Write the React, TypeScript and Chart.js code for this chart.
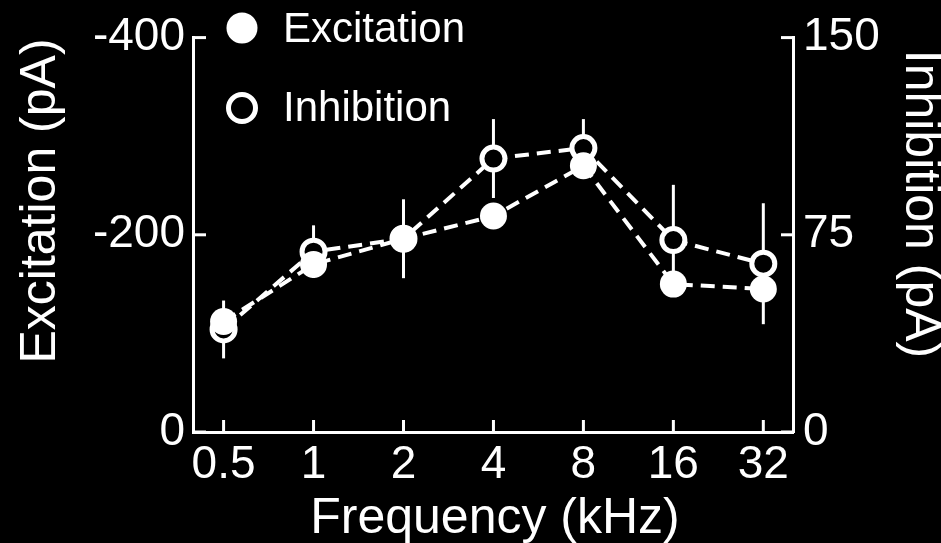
import React, { useEffect, useRef } from 'react';
import { Chart, registerables } from 'chart.js';

Chart.register(...registerables);

const categories = ['0.5', '1', '2', '4', '8', '16', '32'];
const excitation = [-112, -170, -196, -219, -270, -150, -145];
const excitationErr = [12, 8, 20, 10, 10, 10, 12];
const inhibition = [39, 68.6, 73.5, 104, 108, 73, 64];
const inhibitionErr = [11, 10, 15, 15, 11, 21, 23];
const excTicks = [-400, -200, 0];
const inhTicks = [0, 75, 150];
const excTitle = 'Excitation (pA)';
const inhTitle = 'Inhibition (pA)';
const xTitle = 'Frequency (kHz)';
const legendLabels = ['Excitation', 'Inhibition'];

const FONT = '"Liberation Sans", Arial, Helvetica, sans-serif';
const WHITE = '#ffffff';

const customPlugin = {
  id: 'customDecor',
  beforeDraw(chart: any) {
    const ctx = chart.ctx;
    ctx.save();
    ctx.fillStyle = '#000000';
    ctx.fillRect(0, 0, chart.width, chart.height);
    ctx.restore();
  },
  beforeDatasetsDraw(chart: any) {
    const ctx = chart.ctx;
    const xs = chart.scales.x;
    const sets = [
      { vals: excitation, errs: excitationErr, scale: chart.scales.yL },
      { vals: inhibition, errs: inhibitionErr, scale: chart.scales.yR },
    ];
    ctx.save();
    ctx.strokeStyle = WHITE;
    ctx.lineWidth = 3;
    ctx.lineCap = 'butt';
    sets.forEach((s) => {
      s.vals.forEach((v, i) => {
        const x = xs.getPixelForValue(i);
        const y1 = s.scale.getPixelForValue(v - s.errs[i]);
        const y2 = s.scale.getPixelForValue(v + s.errs[i]);
        ctx.beginPath();
        ctx.moveTo(x, y1);
        ctx.lineTo(x, y2);
        ctx.stroke();
      });
    });
    ctx.restore();
  },
  afterDraw(chart: any) {
    const ctx = chart.ctx;
    const area = chart.chartArea;
    const xs = chart.scales.x;
    const yL = chart.scales.yL;
    const yR = chart.scales.yR;
    ctx.save();
    ctx.strokeStyle = WHITE;
    ctx.fillStyle = WHITE;
    ctx.lineWidth = 3;
    // inward tick marks
    excTicks.forEach((v) => {
      const y = yL.getPixelForValue(v);
      ctx.beginPath();
      ctx.moveTo(area.left, y);
      ctx.lineTo(area.left + 13, y);
      ctx.stroke();
    });
    inhTicks.forEach((v) => {
      const y = yR.getPixelForValue(v);
      ctx.beginPath();
      ctx.moveTo(area.right, y);
      ctx.lineTo(area.right - 12, y);
      ctx.stroke();
    });
    categories.forEach((_, i) => {
      const x = xs.getPixelForValue(i);
      ctx.beginPath();
      ctx.moveTo(x, area.bottom);
      ctx.lineTo(x, area.bottom - 12);
      ctx.stroke();
    });

    // axis titles
    ctx.font = `50px ${FONT}`;
    ctx.textAlign = 'center';
    ctx.textBaseline = 'alphabetic';
    ctx.save();
    ctx.translate(55, 201);
    ctx.rotate(-Math.PI / 2);
    ctx.fillText(excTitle, 0, 0);
    ctx.restore();
    ctx.save();
    ctx.translate(906, 204);
    ctx.rotate(Math.PI / 2);
    ctx.fillText(inhTitle, 0, 0);
    ctx.restore();
    ctx.fillText(xTitle, (area.left + area.right) / 2 + 2, 533);

    // legend
    ctx.beginPath();
    ctx.arc(242, 28, 15.5, 0, Math.PI * 2);
    ctx.fill();
    ctx.beginPath();
    ctx.arc(242, 108, 13.5, 0, Math.PI * 2);
    ctx.lineWidth = 5;
    ctx.stroke();
    ctx.font = `42px ${FONT}`;
    ctx.textAlign = 'left';
    ctx.fillText(legendLabels[0], 283, 42);
    ctx.fillText(legendLabels[1], 283, 121);
    ctx.restore();
  },
};

export default function App() {
  const ref = useRef<HTMLCanvasElement | null>(null);
  useEffect(() => {
    if (!ref.current) return;
    document.body.style.background = '#000';
    const tickFont = { family: FONT, size: 46 };
    const chart = new Chart(ref.current, {
      type: 'line',
      data: {
        datasets: [
          {
            label: legendLabels[0],
            data: excitation.map((v, i) => ({ x: i, y: v })),
            yAxisID: 'yL',
            borderColor: WHITE,
            borderWidth: 4,
            borderDash: [14, 8],
            pointRadius: 13.5,
            pointBackgroundColor: WHITE,
            pointBorderWidth: 0,
            pointBorderColor: WHITE,
            tension: 0,
            fill: false,
            clip: false,
          } as any,
          {
            label: legendLabels[1],
            data: inhibition.map((v, i) => ({ x: i, y: v })),
            yAxisID: 'yR',
            borderColor: WHITE,
            borderWidth: 4,
            borderDash: [14, 8],
            pointRadius: 11.5,
            pointBackgroundColor: '#000000',
            pointBorderWidth: 5,
            pointBorderColor: WHITE,
            tension: 0,
            fill: false,
            clip: false,
          } as any,
        ],
      },
      options: {
        responsive: false,
        animation: false,
        devicePixelRatio: 1,
        layout: { padding: { top: 32, left: 0, right: 0, bottom: 0 } },
        plugins: {
          legend: { display: false },
          tooltip: { enabled: false },
        },
        scales: {
          x: {
            type: 'linear',
            position: 'bottom',
            min: -0.34,
            max: 6.33,
            grid: { display: false, drawTicks: false },
            border: { display: true, color: WHITE, width: 3 },
            ticks: {
              color: WHITE,
              font: tickFont,
              padding: 6,
              autoSkip: false,
              maxRotation: 0,
              callback: (v: any) => categories[Number(v)] ?? '',
            },
            afterBuildTicks: (s: any) => {
              s.ticks = categories.map((_, i) => ({ value: i }));
            },
            afterFit: (s: any) => {
              s.height = 111;
            },
          },
          yL: {
            type: 'linear',
            position: 'left',
            min: -400,
            max: 0,
            reverse: true,
            grid: { display: false, drawTicks: false },
            border: { display: true, color: WHITE, width: 3 },
            ticks: {
              color: WHITE,
              font: tickFont,
              padding: 8,
              callback: (v: any) => String(v),
            },
            afterBuildTicks: (s: any) => {
              s.ticks = excTicks.map((v) => ({ value: v }));
            },
            afterFit: (s: any) => {
              s.width = 193;
            },
          },
          yR: {
            type: 'linear',
            position: 'right',
            min: 0,
            max: 150,
            grid: { display: false, drawTicks: false },
            border: { display: true, color: WHITE, width: 3 },
            ticks: {
              color: WHITE,
              font: tickFont,
              padding: 10,
              callback: (v: any) => String(v),
            },
            afterBuildTicks: (s: any) => {
              s.ticks = inhTicks.map((v) => ({ value: v }));
            },
            afterFit: (s: any) => {
              s.width = 148;
            },
          },
        },
      } as any,
      plugins: [customPlugin],
    });
    return () => chart.destroy();
  }, []);

  return (
    <div style={{ position: 'fixed', left: 0, top: 0, width: 941, height: 543, background: '#000' }}>
      <canvas ref={ref} width={941} height={543} style={{ display: 'block' }} />
    </div>
  );
}
